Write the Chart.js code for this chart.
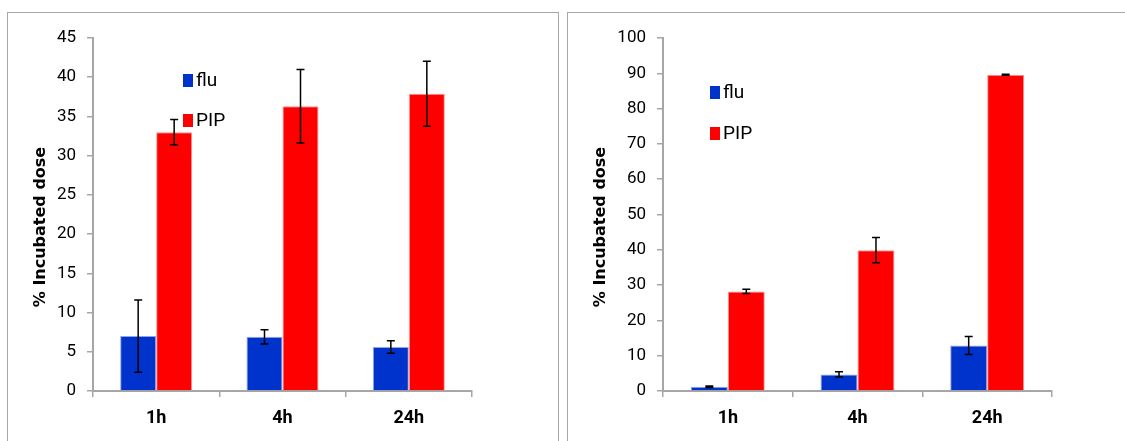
<!DOCTYPE html>
<html>
<head>
<meta charset="utf-8">
<script src="https://cdn.jsdelivr.net/npm/chart.js@4/dist/chart.umd.min.js"></script>
<style>
  html, body { margin: 0; padding: 0; background: #fff; }
  body { width: 1125px; height: 441px; position: relative; overflow: hidden; }
  .frame { position: absolute; border: 1.5px solid #a6a6a6; box-sizing: border-box; }
  .box { position: absolute; top: 0; height: 441px; }
</style>
</head>
<body>
<div class="frame" style="left:7px; top:12px; width:552px; height:460px;"></div>
<div class="frame" style="left:567px; top:12px; width:570px; height:460px;"></div>
<div class="box" style="left:0; width:560px;"><canvas id="chart-left"></canvas></div>
<div class="box" style="left:560px; width:565px;"><canvas id="chart-right"></canvas></div>

<script>
// ── Data ─────────────────────────────────────────────────────
const categories = ['1h', '4h', '24h'];
const seriesNames = ['flu', 'PIP'];
const yTitle = '% Incubated dose';

// left panel
const fluLeft    = [7.0, 6.9, 5.6];
const fluLeftErr = [4.6, 0.9, 0.8];
const pipLeft    = [33.0, 36.3, 37.9];
const pipLeftErr = [1.6, 4.7, 4.15];

// right panel
const fluRight    = [1.2, 4.7, 12.9];
const fluRightErr = [0.2, 0.75, 2.55];
const pipRight    = [28.2, 39.9, 89.6];
const pipRightErr = [0.6, 3.6, 0.15];

const BLUE = '#0033cc';
const RED = '#ff0000';
const AXIS = '#a6a6a6';
const FONT = "Roboto, 'Liberation Sans', sans-serif";

// ── Plugins ──────────────────────────────────────────────────

// vertical error bars with small caps, read from dataset.errors
const errorBars = {
  id: 'errorBars',
  afterDatasetsDraw(chart) {
    const { ctx: c, scales: { y } } = chart;
    c.save();
    c.strokeStyle = '#000';
    c.lineWidth = 1.5;
    chart.data.datasets.forEach((ds, i) => {
      const meta = chart.getDatasetMeta(i);
      meta.data.forEach((bar, j) => {
        const v = ds.data[j];
        const e = ds.errors[j];
        const yt = y.getPixelForValue(v + e);
        const yb = y.getPixelForValue(v - e);
        const x = bar.x;
        c.beginPath();
        c.moveTo(x, yt); c.lineTo(x, yb);
        c.moveTo(x - 4, yt); c.lineTo(x + 4, yt);
        c.moveTo(x - 4, yb); c.lineTo(x + 4, yb);
        c.stroke();
      });
    });
    c.restore();
  },
};

// legend drawn inside the plot, stacked vertically, plus the rotated y title
const innerLegend = {
  id: 'innerLegend',
  afterDraw(chart, args, opts) {
    const c = chart.ctx;
    c.save();
    c.font = `19px ${FONT}`;
    c.textBaseline = 'middle';
    c.textAlign = 'left';
    chart.data.datasets.forEach((ds, i) => {
      const top = opts.y + i * opts.gap;
      c.fillStyle = ds.backgroundColor;
      c.fillRect(opts.x, top, 10, 13);
      c.fillStyle = '#000';
      c.fillText(ds.label, opts.x + 13, top + 7);
    });

    // y-axis title, sits a little below the plot centre like the original
    c.translate(opts.titleX, opts.titleY);
    c.rotate(-Math.PI / 2);
    c.font = "bold 16px 'DejaVu Sans', sans-serif";
    c.textAlign = 'center';
    c.fillText(yTitle, 0, 0);
    c.restore();
  },
};

// ── Chart factory ────────────────────────────────────────────
function renderPanel(canvasId, flu, fluErr, pip, pipErr, yMax, step, axisWidth, padRight, legendPos) {
  const ctx = document.getElementById(canvasId).getContext('2d');
  new Chart(ctx, {
    type: 'bar',
    data: {
      labels: categories,
      datasets: [
        { label: seriesNames[0], data: flu, errors: fluErr, backgroundColor: BLUE,
          borderColor: 'rgba(120,140,230,0.8)', borderWidth: 1 },
        { label: seriesNames[1], data: pip, errors: pipErr, backgroundColor: RED,
          borderColor: 'rgba(255,120,120,0.8)', borderWidth: 1 },
      ],
    },
    options: {
      responsive: true,
      maintainAspectRatio: false,
      animation: false,
      layout: { padding: { top: 38, right: padRight, bottom: 0, left: 0 } },
      datasets: { bar: { categoryPercentage: 0.57, barPercentage: 1 } },
      plugins: {
        legend: { display: false },
        tooltip: { enabled: false },
        innerLegend: legendPos,
      },
      scales: {
        x: {
          afterFit: (s) => { s.height = 50; },
          grid: { offset: true, drawOnChartArea: false, drawTicks: true, tickLength: 6, color: AXIS, lineWidth: 1.5 },
          border: { color: AXIS, width: 2 },
          ticks: { color: '#000', padding: 11, font: { family: FONT, size: 18, weight: 'bold' } },
        },
        y: {
          min: 0,
          max: yMax,
          afterFit: (s) => { s.width = axisWidth; },
          grid: { drawOnChartArea: false, drawTicks: true, tickLength: 6, color: AXIS, lineWidth: 1.5 },
          border: { color: AXIS, width: 2 },
          ticks: { stepSize: step, color: '#000', padding: 11, font: { family: FONT, size: 17 } },
        },
      },
    },
    plugins: [errorBars, innerLegend],
  });
}

renderPanel('chart-left', fluLeft, fluLeftErr, pipLeft, pipLeftErr, 45, 5, 93, 88,
  { x: 183, y: 74, gap: 40, titleX: 41, titleY: 227 });
renderPanel('chart-right', fluRight, fluRightErr, pipRight, pipRightErr, 100, 10, 103, 73,
  { x: 150, y: 86, gap: 41, titleX: 41, titleY: 227 });
</script>
</body>
</html>
